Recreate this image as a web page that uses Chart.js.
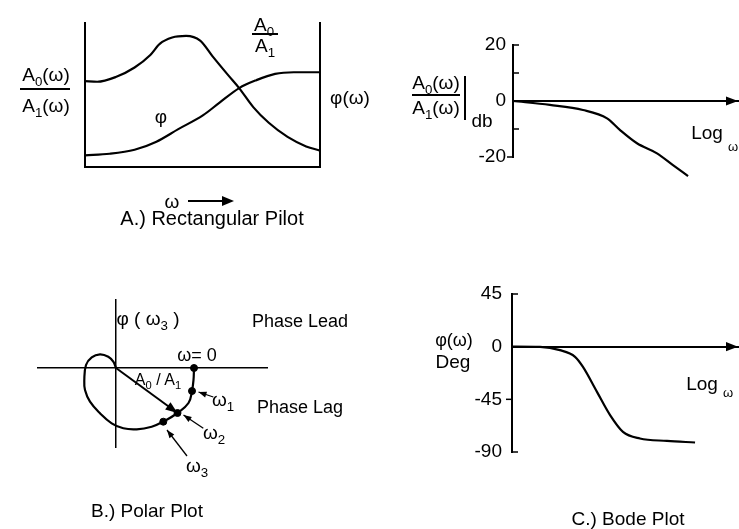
<!DOCTYPE html>
<html lang="en">
<head>
<meta charset="UTF-8" />
<title>Frequency Response Plots</title>
<script src="https://cdn.jsdelivr.net/npm/chart.js"></script>
<style>
  html, body { margin: 0; padding: 0; background: #fff; }
  #page { position: relative; width: 739px; height: 529px; overflow: hidden;
          font-family: "Liberation Sans", Arial, sans-serif; color: #000; }
  #page canvas { position: absolute; left: 0; top: 0; }
  .lbl { position: absolute; transform: translate(-50%, -50%); white-space: nowrap;
         line-height: 1; font-size: 19px; }
  .s { font-size: 70%; position: relative; top: 0.35em; }
  .bar { position: absolute; background: #000; }
  .head { position: absolute; width: 0; height: 0; border-top: 5px solid transparent;
          border-bottom: 5px solid transparent; border-left: 12px solid #000; }
</style>
</head>
<body>
<div id="page">
  <canvas id="rectChart" width="739" height="529"></canvas>
  <canvas id="polarChart" width="739" height="529"></canvas>
  <canvas id="gainChart" width="739" height="529"></canvas>
  <canvas id="phaseChart" width="739" height="529"></canvas>

  <!-- A.) rectangular -->
  <div class="lbl" style="left:46px;top:74px">A<span class="s">0</span>(ω)</div>
  <div class="bar" style="left:20px;top:88px;width:50px;height:1.5px"></div>
  <div class="lbl" style="left:46px;top:105px">A<span class="s">1</span>(ω)</div>
  <div class="lbl" style="left:264px;top:24px">A<span class="s">0</span></div>
  <div class="bar" style="left:252px;top:33px;width:26px;height:1.5px"></div>
  <div class="lbl" style="left:265px;top:45px">A<span class="s">1</span></div>
  <div class="lbl" style="left:350px;top:97px">φ(ω)</div>
  <div class="lbl" style="left:161px;top:116px">φ</div>
  <div class="lbl" style="left:172px;top:201px">ω</div>
  <div class="bar" style="left:188px;top:200px;width:36px;height:1.5px"></div>
  <div class="head" style="left:222px;top:196px"></div>
  <div class="lbl" style="left:212px;top:218px;font-size:20px">A.) Rectangular Pilot</div>

  <!-- B.) polar -->
  <div class="lbl" style="left:148px;top:318px">φ ( ω<span class="s">3</span> )</div>
  <div class="lbl" style="left:300px;top:321px;font-size:18px">Phase Lead</div>
  <div class="lbl" style="left:197px;top:355px;font-size:18px">ω= 0</div>
  <div class="lbl" style="left:158px;top:380px;font-size:16px">A<span class="s">0</span> / A<span class="s">1</span></div>
  <div class="lbl" style="left:223px;top:399px">ω<span class="s">1</span></div>
  <div class="lbl" style="left:300px;top:407px;font-size:18px">Phase Lag</div>
  <div class="lbl" style="left:214px;top:432px">ω<span class="s">2</span></div>
  <div class="lbl" style="left:197px;top:465px">ω<span class="s">3</span></div>
  <div class="lbl" style="left:147px;top:510px">B.) Polar Plot</div>

  <!-- gain bode -->
  <div class="lbl" style="left:436px;top:82px">A<span class="s">0</span>(ω)</div>
  <div class="bar" style="left:412px;top:94px;width:48px;height:1.5px"></div>
  <div class="lbl" style="left:436px;top:107px">A<span class="s">1</span>(ω)</div>
  <div class="bar" style="left:464px;top:76px;width:1.5px;height:44px"></div>
  <div class="lbl" style="left:482px;top:120px">db</div>
  <div class="lbl" style="left:707px;top:132px">Log</div>
  <div class="lbl" style="left:733px;top:146px;font-size:13px">ω</div>

  <!-- phase bode -->
  <div class="lbl" style="left:454px;top:340px;font-size:18px">φ(ω)</div>
  <div class="lbl" style="left:453px;top:361px">Deg</div>
  <div class="lbl" style="left:702px;top:383px">Log</div>
  <div class="lbl" style="left:728px;top:392px;font-size:13px">ω</div>
  <div class="lbl" style="left:628px;top:518px">C.) Bode Plot</div>
</div>

<script>
// A.) rectangular plot, omega runs 0-100 across the frame, values 0-100 up the frame
const rectOmega = [0, 5.2, 13.1, 21.1, 27.8, 31.8, 37.1, 43, 49, 54.3, 61, 65.6, 71.6, 78.2, 86.2, 94.1, 100];
const rectGain = [59.7, 59.2, 62.5, 69.1, 77.8, 85.5, 89.9, 91, 87.7, 76.8, 63.6, 54.8, 41.6, 30.7, 20.9, 14.3, 11.4];
const rectPhaseOmega = [0, 10.5, 21.1, 30.4, 39.7, 50.3, 57.4, 65.6, 72.9, 80.9, 88.8, 100];
const rectPhase = [8.1, 9.2, 12, 17.6, 26.3, 36, 44.9, 54.8, 60.3, 64.7, 65.8, 65.8];

// B.) polar plot (real / imaginary parts)
const polarRe = [7.8, 7.75, 7.6, 7.25, 6.15, 4.73, 3.57, 2.07, 0.73, -0.43, -1.6, -2.6, -3.1, -3.17, -3, -2.43, -1.6, -0.77, -0.27, 0];
const polarIm = [0, -1.2, -2.3, -3.5, -4.5, -5.37, -5.87, -6.13, -6.03, -5.53, -4.53, -3.37, -2.2, -1.2, 0.3, 1.07, 1.37, 1.13, 0.63, 0];
const markRe = [7.8, 7.6, 6.15, 4.73];   // w=0, w1, w2, w3
const markIm = [0, -2.3, -4.5, -5.37];
const pointerFrom = [[9.73, -2.9], [8.73, -6.03], [7.1, -8.8]];
const pointerTo = [[8.25, -2.4], [6.75, -4.7], [5.1, -6.2]];

// C.) bode plots, log w runs 0-100 along the axis
const gainLogW = [0, 16.4, 31.1, 41.8, 47.6, 55.1, 64, 71.1, 77.8];
const gainDb = [0, -1.4, -3.2, -6.2, -10.4, -15.1, -18.7, -22.9, -26.8];
const gainLabels = [-20, 0, 20];
const phaseLogW = [0, 12.4, 21.2, 27.9, 31.4, 37.6, 43.4, 49.1, 56.6, 68.6, 81];
const phaseDeg = [0, -0.2, -3, -8.7, -17.3, -38.6, -58.5, -72.8, -78.5, -80.5, -81.9];
const phaseLabels = [-90, -45, 0, 45];

Chart.defaults.font.family = '"Liberation Sans", Arial, sans-serif';
Chart.defaults.font.size = 19;
Chart.defaults.color = '#000';
Chart.defaults.animation = false;
Chart.defaults.responsive = false;
Chart.defaults.plugins.legend.display = false;
Chart.defaults.plugins.tooltip.enabled = false;

const pts = (xs, ys) => xs.map((x, i) => ({ x: x, y: ys[i] }));

function drawHead(ctx, x0, y0, x1, y1, len) {
  const a = Math.atan2(y1 - y0, x1 - x0);
  const w = len * 0.38;
  const bx = x1 - len * Math.cos(a), by = y1 - len * Math.sin(a);
  ctx.save();
  ctx.fillStyle = '#000';
  ctx.beginPath();
  ctx.moveTo(x1, y1);
  ctx.lineTo(bx + w * Math.sin(a), by - w * Math.cos(a));
  ctx.lineTo(bx - w * Math.sin(a), by + w * Math.cos(a));
  ctx.closePath();
  ctx.fill();
  ctx.restore();
}

// arrow heads on datasets, arrow on the zero axis and the little bracket ticks
const arrows = {
  id: 'arrows',
  afterDatasetsDraw(chart) {
    chart.data.datasets.forEach((ds, i) => {
      if (!ds.arrowHead) return;
      const p = chart.getDatasetMeta(i).data;
      const a = p[p.length - 2], b = p[p.length - 1];
      drawHead(chart.ctx, a.x, a.y, b.x, b.y, ds.arrowHead);
    });
  },
  afterDraw(chart, args, opts) {
    const ctx = chart.ctx, area = chart.chartArea;
    if (opts.axisArrow) {
      const y = chart.scales.y.getPixelForValue(0);
      drawHead(ctx, area.left, y, area.right, y, 12);
    }
    if (opts.sideTicks) {
      ctx.save();
      ctx.strokeStyle = '#000';
      ctx.lineWidth = 1.5;
      opts.sideTicks.forEach(([v, dir]) => {
        const y = chart.scales.y.getPixelForValue(v);
        ctx.beginPath();
        ctx.moveTo(area.left, y);
        ctx.lineTo(area.left + dir * 6, y);
        ctx.stroke();
      });
      ctx.restore();
    }
  }
};

function bareAxis(extra) {
  return Object.assign({
    type: 'linear',
    ticks: { display: false },
    grid: { display: false },
    border: { display: true, color: '#000', width: 2 }
  }, extra);
}

const curve = { showLine: true, pointRadius: 0, borderColor: '#000', borderWidth: 2.2, cubicInterpolationMode: 'monotone' };

// A.) Rectangular
new Chart(document.getElementById('rectChart'), {
  type: 'scatter',
  data: {
    datasets: [
      Object.assign({ data: pts(rectOmega, rectGain) }, curve),
      Object.assign({ data: pts(rectPhaseOmega, rectPhase) }, curve)
    ]
  },
  options: {
    layout: { padding: { left: 77, right: 411, top: 23, bottom: 354 } },
    scales: {
      x: bareAxis({ min: 0, max: 100, position: 'bottom' }),
      y: bareAxis({ min: 0, max: 100, position: 'left' }),
      y2: bareAxis({ min: 0, max: 100, position: 'right' })
    }
  }
});

// B.) Polar
const pointerSets = pointerFrom.map((f, i) => ({
  data: [{ x: f[0], y: f[1] }, { x: pointerTo[i][0], y: pointerTo[i][1] }],
  showLine: true, pointRadius: 0, borderColor: '#000', borderWidth: 1.3, arrowHead: 8, clip: false
}));
new Chart(document.getElementById('polarChart'), {
  type: 'scatter',
  data: {
    datasets: [
      { data: pts(polarRe, polarIm), showLine: true, pointRadius: 0, borderColor: '#000', borderWidth: 2.2, tension: 0.4, clip: false },
      { data: [{ x: 0, y: 0 }, { x: markRe[2], y: markIm[2] }], showLine: true, pointRadius: 0,
        borderColor: '#000', borderWidth: 2, arrowHead: 12 },
      { data: pts(markRe, markIm), pointRadius: 3.5, backgroundColor: '#000', borderColor: '#000' }
    ].concat(pointerSets)
  },
  options: {
    layout: { padding: { left: 38, right: 472, top: 300, bottom: 82 } },
    scales: {
      x: bareAxis({ min: -7.8, max: 15.1, position: { y: 0 }, border: { display: true, color: '#000', width: 1.5 } }),
      y: bareAxis({ min: -7.9, max: 6.8, position: { x: 0 }, border: { display: true, color: '#000', width: 1.5 } })
    }
  },
  plugins: [arrows]
});

// y axis for the bode plots, fixed width so the plot area lands where wanted
function bodeAxis(min, max, step, labels, pad) {
  return {
    type: 'linear', min: min, max: max, position: 'left',
    grid: { display: false, drawTicks: false },
    border: { display: true, color: '#000', width: 2 },
    ticks: { stepSize: step, padding: pad, color: '#000',
             callback: v => labels.includes(v) ? String(v) : '' },
    afterFit: s => { s.width = 60; }
  };
}

// C.) gain bode
new Chart(document.getElementById('gainChart'), {
  type: 'scatter',
  data: { datasets: [Object.assign({ data: pts(gainLogW, gainDb), clip: false }, curve)] },
  options: {
    layout: { padding: { left: 453, right: 1, top: 45, bottom: 372 } },
    scales: {
      x: bareAxis({ min: 0, max: 100, position: { y: 0 } }),
      y: bodeAxis(-20, 20, 10, gainLabels, 7)
    },
    plugins: { arrows: { axisArrow: true, sideTicks: [[20, 1], [10, 1], [-10, 1], [-20, -1]] } }
  },
  plugins: [arrows]
});

// C.) phase bode
new Chart(document.getElementById('phaseChart'), {
  type: 'scatter',
  data: { datasets: [Object.assign({ data: pts(phaseLogW, phaseDeg), clip: false }, curve)] },
  options: {
    layout: { padding: { left: 452, right: 1, top: 294, bottom: 77 } },
    scales: {
      x: bareAxis({ min: 0, max: 100, position: { y: 0 } }),
      y: bodeAxis(-90, 45, 45, phaseLabels, 10)
    },
    plugins: { arrows: { axisArrow: true, sideTicks: [[45, 1], [-45, -1], [-90, 1]] } }
  },
  plugins: [arrows]
});
</script>
</body>
</html>
